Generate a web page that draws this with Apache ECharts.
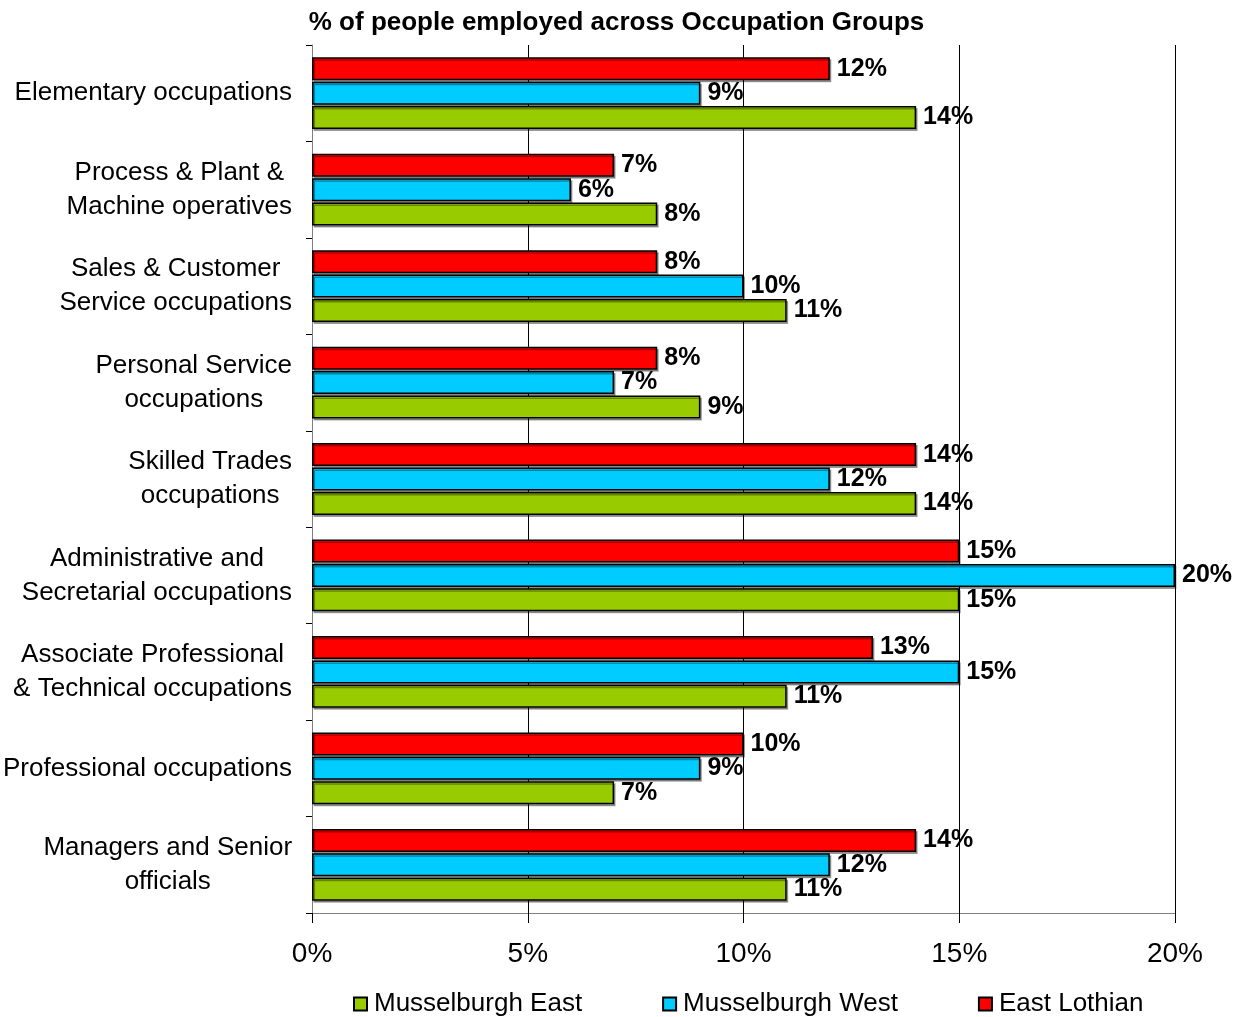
<!DOCTYPE html>
<html><head><meta charset="utf-8">
<script src="https://cdn.jsdelivr.net/npm/echarts@6/dist/echarts.min.js"></script>
<style>html,body{margin:0;padding:0;background:#fff}#c{width:1233px;height:1017px}</style>
</head><body><div id="c"></div>
<script>
const categories = [
  'Elementary occupations',
  'Process & Plant &\nMachine operatives',
  'Sales & Customer\nService occupations',
  'Personal Service\noccupations',
  'Skilled Trades\noccupations',
  'Administrative and\nSecretarial occupations',
  'Associate Professional\n& Technical occupations',
  'Professional occupations',
  'Managers and Senior\nofficials'
];
const seriesNames = ['Musselburgh East', 'Musselburgh West', 'East Lothian'];
const musselburghEast = [14, 8, 11, 9, 14, 15, 11, 7, 11];
const musselburghWest = [9, 6, 10, 7, 12, 20, 15, 9, 12];
const eastLothian = [12, 7, 8, 8, 14, 15, 13, 10, 14];
const xTicks = [0, 5, 10, 15, 20];

const colors = ['#99cc00', '#00ccff', '#ff0000'];
const values = [musselburghEast, musselburghWest, eastLothian];
const FONT = 'Liberation Sans, Arial, sans-serif';

// draw order: East Lothian on top of each group, Musselburgh East at the bottom
const drawOrder = [2, 1, 0];

const chart = echarts.init(document.getElementById('c'));
chart.setOption({
  animation: false,
  title: {
    text: '% of people employed across Occupation Groups',
    left: 'center', top: 5,
    textStyle: { fontFamily: FONT, fontSize: 26, fontWeight: 'bold', color: '#000' }
  },
  grid: { left: 311, right: 58, top: 45, bottom: 104, containLabel: false },
  legend: {
    bottom: -5, left: 348,
    data: seriesNames,
    icon: 'rect', itemWidth: 13, itemHeight: 13, itemGap: 80,
    textStyle: { fontFamily: FONT, fontSize: 26, color: '#000', padding: [0, 0, 0, 2] }
  },
  xAxis: {
    type: 'value', min: xTicks[0], max: xTicks[xTicks.length - 1], interval: 5,
    axisLine: { show: true, lineStyle: { color: '#808080', width: 1 } },
    axisTick: { show: true, length: 10, lineStyle: { color: '#000' } },
    splitLine: { show: true, lineStyle: { color: '#000', width: 1 } },
    axisLabel: { margin: 27, fontFamily: FONT, fontSize: 28, color: '#000', formatter: v => v + '%' }
  },
  yAxis: {
    type: 'category', inverse: true, data: categories,
    axisLine: { show: true, lineStyle: { color: '#808080', width: 1 } },
    axisTick: { show: true, length: 6, lineStyle: { color: '#000' } },
    axisLabel: {
      margin: 20, fontFamily: FONT, fontSize: 26, color: '#000', lineHeight: 34, align: 'right',
      formatter: v => v.split('\n').map(l => '{c|' + l + '}').join('\n'),
      rich: { c: { align: 'center', fontFamily: FONT, fontSize: 26, lineHeight: 34, color: '#000' } }
    }
  },
  series: drawOrder.map(i => ({
    name: seriesNames[i], type: 'bar', data: values[i],
    barWidth: 23, barGap: '6%',
    itemStyle: { color: colors[i], borderColor: '#000', borderWidth: 1.5,
      shadowColor: 'rgba(0,0,0,0.35)', shadowOffsetX: 1.5, shadowOffsetY: 2, shadowBlur: 0 },
    label: { show: true, position: 'right', distance: 7, fontFamily: FONT, fontSize: 25,
      fontWeight: 'bold', color: '#000', formatter: p => p.value + '%' }
  }))
});
</script></body></html>
